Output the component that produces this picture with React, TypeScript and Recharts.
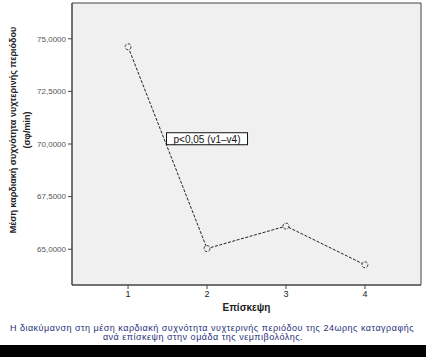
import React from "react";
import {
  LineChart,
  Line,
  XAxis,
  YAxis,
  CartesianGrid,
  ReferenceArea,
  ReferenceDot,
  Label,
} from "recharts";

const visits = [1, 2, 3, 4];
const meanHeartRate = [74.62, 65.03, 66.1, 64.26];
const yTicks = [65, 67.5, 70, 72.5, 75];
const xTitle = "Επίσκεψη";
const yTitleLine1 = "Μέση καρδιακή συχνότητα νυχτερινής περιόδου";
const yTitleLine2 = "(σφ/min)";
const annotationText = "p<0,05 (v1–v4)";
const captionLine1 =
  "Η διακύμανση στη μέση καρδιακή συχνότητα νυχτερινής περιόδου της 24ωρης καταγραφής";
const captionLine2 = "ανά επίσκεψη στην ομάδα της νεμπιβολόλης.";

const data = visits.map((v, i) => ({ visit: v, hr: meanHeartRate[i] }));

const fmt = (v: number) => v.toFixed(4).replace(".", ",");

const FONT = "Liberation Sans, Arial, sans-serif";

const YTitle = () => {
  const cy = 130;
  return (
    <g>
      <text
        x={13}
        y={cy}
        transform={`rotate(-90, 13, ${cy})`}
        textAnchor="middle"
        dominantBaseline="central"
        fontFamily={FONT}
        fontWeight="bold"
        fontSize={9}
        fill="#222"
      >
        {yTitleLine1}
      </text>
      <text
        x={27}
        y={cy}
        transform={`rotate(-90, 27, ${cy})`}
        textAnchor="middle"
        dominantBaseline="central"
        fontFamily={FONT}
        fontWeight="bold"
        fontSize={9}
        fill="#222"
      >
        {yTitleLine2}
      </text>
    </g>
  );
};

const AnnotationShape = (props: any) => {
  const { cx, cy } = props;
  const w = 81;
  const h = 12;
  return (
    <g>
      <rect
        x={cx - w / 2}
        y={cy - h / 2}
        width={w}
        height={h}
        fill="#ffffff"
        stroke="#111"
        strokeWidth={1}
      />
      <text
        x={cx}
        y={cy + 0.5}
        textAnchor="middle"
        dominantBaseline="central"
        fontFamily={FONT}
        fontSize={10}
        fill="#111"
      >
        {annotationText}
      </text>
    </g>
  );
};

export default function App() {
  return (
    <div
      style={{
        position: "absolute",
        left: 0,
        top: 0,
        width: 426,
        height: 357,
        background: "#ffffff",
        overflow: "hidden",
      }}
    >
      <LineChart
        width={426}
        height={357}
        data={data}
        margin={{ top: 3, right: 5, bottom: 0, left: 0 }}
      >
        <CartesianGrid
          horizontal={false}
          vertical={false}
          fill="#f0f0f0"
          stroke="none"
        />
        <XAxis
          dataKey="visit"
          type="number"
          domain={[0.29, 4.71]}
          ticks={visits}
          allowDataOverflow
          axisLine={{ stroke: "#444" }}
          tickLine={{ stroke: "#444" }}
          tickSize={4}
          tick={{ fontSize: 9, fill: "#222", fontFamily: FONT }}
          height={72}
        >
          <Label
            value={xTitle}
            position="insideTop"
            offset={19}
            style={{
              fontSize: 10,
              fontWeight: "bold",
              fill: "#222",
              fontFamily: FONT,
            }}
          />
        </XAxis>
        <YAxis
          type="number"
          domain={[63.3, 76.7]}
          ticks={yTicks}
          allowDataOverflow
          tickFormatter={fmt}
          width={72}
          axisLine={{ stroke: "#444" }}
          tickLine={{ stroke: "#444" }}
          tickSize={4}
          tick={{ fontSize: 8, fill: "#555", fontFamily: FONT }}
        >
          <Label content={<YTitle />} />
        </YAxis>
        <ReferenceArea
          x1={0.29}
          x2={4.71}
          y1={63.3}
          y2={76.7}
          fill="none"
          stroke="#444"
          strokeWidth={1}
        />
        <Line
          dataKey="hr"
          type="linear"
          stroke="#222"
          strokeWidth={1}
          strokeDasharray="3 1.5"
          dot={{ r: 3, fill: "#f0f0f0", stroke: "#333", strokeWidth: 1 }}
          isAnimationActive={false}
        />
        <ReferenceDot
          x={2}
          y={70.25}
          r={0}
          shape={<AnnotationShape />}
          ifOverflow="visible"
        />
      </LineChart>
      <div
        style={{
          position: "absolute",
          top: 324,
          left: 0,
          width: 424,
          textAlign: "center",
          fontFamily: FONT,
          fontSize: 9,
          letterSpacing: "0.5px",
          lineHeight: "8px",
          color: "#1f2f7a",
          whiteSpace: "nowrap",
        }}
      >
        {captionLine1}
      </div>
      <div
        style={{
          position: "absolute",
          top: 333,
          left: 0,
          width: 406,
          textAlign: "center",
          fontFamily: FONT,
          fontSize: 9,
          letterSpacing: "0.5px",
          lineHeight: "8px",
          color: "#1f2f7a",
          whiteSpace: "nowrap",
        }}
      >
        {captionLine2}
      </div>
      <div
        style={{
          position: "absolute",
          top: 345,
          left: 0,
          width: 426,
          height: 12,
          background: "#000",
        }}
      />
    </div>
  );
}
